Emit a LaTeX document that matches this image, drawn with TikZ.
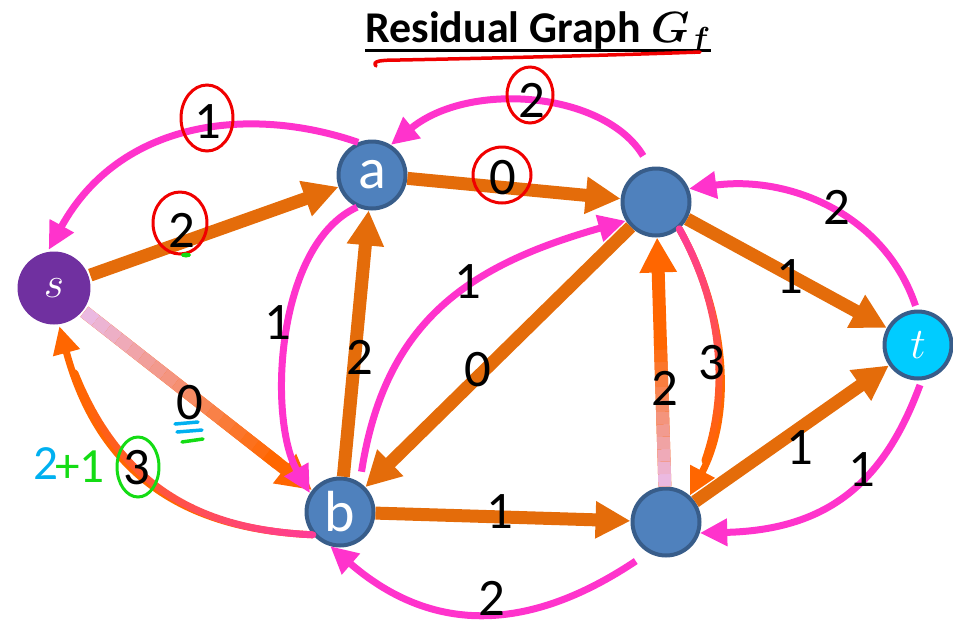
\documentclass[tikz,border=0pt]{standalone}
\usepackage{fontspec}
\setmainfont{Carlito}
\usetikzlibrary{arrows.meta,calc}

\definecolor{edgeor}{RGB}{228,108,10}
\definecolor{brightor}{RGB}{255,102,0}
\definecolor{backpk}{RGB}{255,51,204}
\definecolor{hotpk}{RGB}{255,60,150}
\definecolor{palepk}{RGB}{235,185,225}
\definecolor{vblue}{RGB}{79,129,189}
\definecolor{vline}{RGB}{56,93,138}
\definecolor{spurple}{RGB}{112,48,160}
\definecolor{tcyan}{RGB}{0,204,255}
\definecolor{redink}{RGB}{240,0,0}
\definecolor{inkblue}{RGB}{0,176,240}
\definecolor{inkgreen}{RGB}{20,220,20}

\tikzset{
  vtx/.style={circle, minimum size=1.34cm, inner sep=0pt, fill=vblue, draw=vline,
    line width=0.08cm, text=white, font=\fontsize{33}{35}\selectfont},
  flow/.style={draw=edgeor, line width=0.26cm, -{Triangle[length=0.7cm,width=0.7cm]}},
  back/.style={draw=backpk, line width=0.14cm, -{Triangle[length=0.55cm,width=0.52cm]}},
  lbl/.style={inner sep=0pt, font=\fontsize{30}{32}\selectfont},
  ring/.style={draw=redink, line width=0.06cm},
}

\begin{document}
\begin{tikzpicture}[x=0.02cm,y=-0.02cm]
  \useasboundingbox (0,0) rectangle (953,626);

  % Titre
  \node[anchor=base west, inner sep=0pt, font=\bfseries\fontsize{25}{28}\selectfont] (title) at (365,42) {Residual Graph {\boldmath$G_f$}};
  \draw[line width=0.06cm] ($(title.base west)+(0,8)$) -- ($(title.base east)+(0,8)$);
  \draw[redink, line width=0.07cm, line cap=round]
    (376,66) .. controls (372,61) and (380,60) .. (400,60) .. controls (500,58) and (620,55) .. (700,52);

  % Sommets
  \node[vtx, fill=spurple, draw=none, minimum size=1.46cm, font=\fontsize{40}{42}\selectfont] (s) at (54,288) {$s$};
  \node[vtx] (a) at (372,175) {a};
  \node[vtx] (c) at (656,202) {};
  \node[vtx] (b) at (340,512) {b};
  \node[vtx] (d) at (666,522) {};
  \node[vtx, fill=tcyan, font=\fontsize{40}{42}\selectfont] (t) at (918,345) {$t$};

  % Aretes directes
  \draw[flow] (s) -- (a);
  \draw[flow] (a) -- (c);
  \draw[flow] (b) -- (a);
  \draw[flow] (c) -- (b);
  \draw[flow] (c) -- (t);
  \draw[flow] (b) -- (d);
  \draw[flow] (d) -- (t);

  % s -> b (degrade)
  \draw[flow, draw=brightor] (s) -- (b);
  \foreach \k [evaluate=\k as \ta using \k/20, evaluate=\k as \tb using (\k+1)/20,
               evaluate=\k as \mix using int(100*\k/16)] in {0,...,16} {
    \path (s) -- (b) coordinate[pos=\ta] (g0) coordinate[pos=\tb] (g1);
    \draw[line width=0.26cm, draw=brightor!\mix!palepk] (g0) -- (g1);
  }
  % d -> c (degrade)
  \draw[flow, draw=brightor] (d) -- (c);
  \foreach \k [evaluate=\k as \ta using \k/20, evaluate=\k as \tb using (\k+1)/20,
               evaluate=\k as \mix using int(100*\k/11)] in {0,...,11} {
    \path (d) -- (c) coordinate[pos=\ta] (g0) coordinate[pos=\tb] (g1);
    \draw[line width=0.26cm, draw=brightor!\mix!palepk] (g0) -- (g1);
  }

  % Aretes inverses
  \draw[back] (a.113) .. controls (250,105) and (120,120) .. (s.98);
  \draw[back, shorten <=0.26cm] (c.100) .. controls (605,92) and (470,80) .. (a.58);
  \draw[back, shorten <=0.08cm] (t.92) .. controls (885,215) and (790,175) .. (c.22);
  \draw[back] (a.245) .. controls (275,245) and (268,420) .. (b.148);
  \draw[back, shorten <=0.22cm] (b.56) .. controls (385,320) and (470,265) .. (c.212);
  \draw[back, shorten <=0.1cm] (t.-84) .. controls (885,480) and (830,530) .. (d.-18);
  \draw[back, shorten <=0.3cm] (d.-120) .. controls (555,615) and (450,650) .. (b.-106);

  % c -> d (degrade)
  \draw[back, draw=brightor] (c.-49) .. controls (725,310) and (735,410) .. (d.48);
  \foreach \k [evaluate=\k as \ta using \k/30, evaluate=\k as \tb using (\k+1)/30,
               evaluate=\k as \mix using int(100*\k/25)] in {0,...,25} {
    \path (c.-49) .. controls (725,310) and (735,410) .. (d.48) coordinate[pos=\ta] (g0) coordinate[pos=\tb] (g1);
    \draw[line width=0.14cm, line cap=round, draw=brightor!\mix!hotpk] (g0) -- (g1);
  }
  % b -> s (degrade)
  \draw[back, draw=brightor] (b.220) .. controls (210,530) and (105,495) .. (s.-82);
  \foreach \k [evaluate=\k as \ta using \k/30, evaluate=\k as \tb using (\k+1)/30,
               evaluate=\k as \mix using int(100*\k/26)] in {0,...,26} {
    \path (b.220) .. controls (210,530) and (105,495) .. (s.-82) coordinate[pos=\ta] (g0) coordinate[pos=\tb] (g1);
    \draw[line width=0.14cm, line cap=round, draw=brightor!\mix!hotpk] (g0) -- (g1);
  }

  % Capacites residuelles
  \node[lbl] (l-sa) at (182,230) {2};
  \node[lbl] (l-ac) at (503,178) {0};
  \node[lbl] (l-ba) at (360,357) {2};
  \node[lbl] (l-cb) at (478,370) {0};
  \node[lbl] (l-ct) at (790,277) {1};
  \node[lbl] (l-dc) at (665,388) {2};
  \node[lbl] (l-bd) at (500,512) {1};
  \node[lbl] (l-dt) at (800,448) {1};
  \node[lbl] (l-sb) at (190,403) {0};
  \node[lbl] (l-as) at (208,122) {1};
  \node[lbl] (l-ca) at (532,100) {2};
  \node[lbl] (l-tc) at (837,207) {2};
  \node[lbl] (l-ab) at (278,323) {1};
  \node[lbl] (l-bc) at (468,282) {1};
  \node[lbl] (l-cd) at (712,363) {3};
  \node[lbl] (l-td) at (862,470) {1};
  \node[lbl] (l-db) at (492,598) {2};
  \node[lbl] (l-bs) at (137,468) {3};

  % Annotations a la main
  \draw[ring] (180,223) ellipse [x radius=0.54cm, y radius=0.62cm];
  \draw[ring] (207,118) ellipse [x radius=0.52cm, y radius=0.66cm];
  \draw[ring] (530,95) ellipse [x radius=0.46cm, y radius=0.56cm];
  \draw[ring] (502,175) ellipse [x radius=0.58cm, y radius=0.56cm];
  \draw[ring, draw=inkgreen] (138,467) ellipse [x radius=0.42cm, y radius=0.6cm];
  \fill[inkgreen] (186,255) ellipse [x radius=0.1cm, y radius=0.05cm];
  \draw[inkblue, line width=0.07cm, line cap=round] (175,424) -- (198,422);
  \draw[inkblue, line width=0.07cm, line cap=round] (177,432) -- (202,430);
  \draw[inkgreen, line width=0.07cm, line cap=round] (182,442) -- (203,439);
  \node[lbl, font=\fontsize{28}{30}\selectfont, text=inkblue] (h-two) at (46,464) {2};
  \node[lbl, font=\fontsize{28}{30}\selectfont, text=inkgreen] (h-plus) at (80,467) {+1};
\end{tikzpicture}
\end{document}
